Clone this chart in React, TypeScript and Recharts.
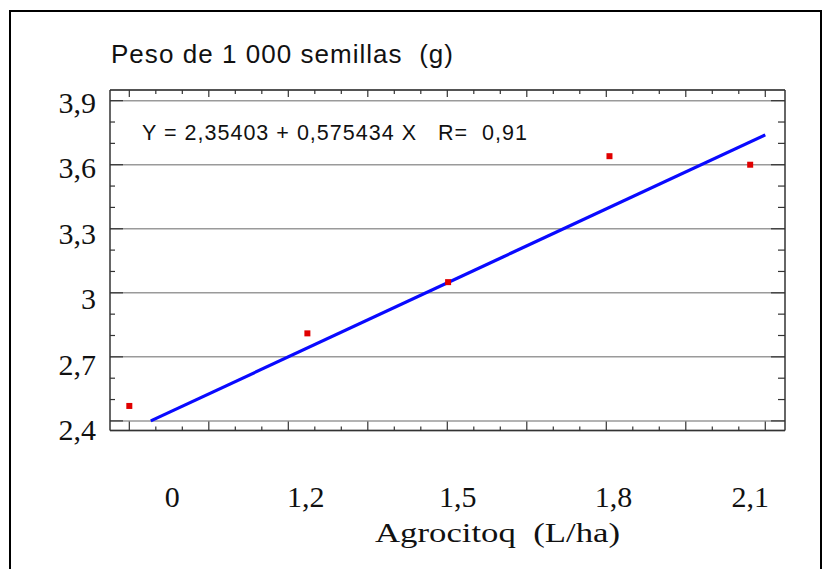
import React from "react"
import { CartesianGrid, ComposedChart, Line, Scatter, XAxis, YAxis } from "recharts"

// dose labels under the axis and where they sit on the (major tick) scale
const doseLabels = ["0", "1,2", "1,5", "1,8", "2,1"]
const doseLabelPos = [0.54, 2.22, 4.13, 6.09, 7.81]

// measured points
const pointPos = [0, 2.24, 4.01, 6.04, 7.81]
const seedWeight = [2.47, 2.81, 3.05, 3.64, 3.6]

// fitted line end points
const fitPos = [0.27, 8.0]
const fitWeight = [2.4, 3.74]

const yMajorTicks = [2.4, 2.7, 3, 3.3, 3.6, 3.9]
const yMajorLabels = ["2,4", "2,7", "3", "3,3", "3,6", "3,9"]
const yLabelShift = [9.5, 8, 6.5, 5, 3.5, 2]
const yAllTicks = [2.4, 2.5, 2.6, 2.7, 2.8, 2.9, 3, 3.1, 3.2, 3.3, 3.4, 3.5, 3.6, 3.7, 3.8, 3.9]
const xAllTicks = [
  0, 1 / 3, 2 / 3, 1, 4 / 3, 5 / 3, 2, 7 / 3, 8 / 3, 3, 10 / 3, 11 / 3, 4, 13 / 3, 14 / 3, 5, 16 / 3, 17 / 3, 6,
  19 / 3, 20 / 3, 7, 22 / 3, 23 / 3, 8,
]

const points = pointPos.map((x, i) => ({ x, y: seedWeight[i] }))
const fitLine = fitPos.map((x, i) => ({ x, y: fitWeight[i] }))

const X_DOMAIN: [number, number] = [-0.243, 8.248]
const Y_DOMAIN: [number, number] = [2.355, 3.95]
const INK = "#333"
const SERIF = "'Liberation Serif', 'Times New Roman', serif"
const NARROW = "'Liberation Sans Narrow', 'Arial Narrow', 'Liberation Sans', Arial, sans-serif"

function LeftTick(props: any) {
  const { x, y, index } = props
  const major = index % 3 === 0
  const li = index / 3
  return (
    <g>
      <line x1={x} x2={x + (major ? 13 : 5)} y1={y} y2={y} stroke={INK} strokeWidth={1.2} />
      {major && (
        <text x={x - 14} y={y + yLabelShift[li] + 10} textAnchor="end" fontFamily={SERIF} fontSize={30} fill="#111">
          {yMajorLabels[li]}
        </text>
      )}
    </g>
  )
}

function RightTick(props: any) {
  const { x, y, index } = props
  return <line x1={x} x2={x - (index % 3 === 0 ? 14 : 7)} y1={y} y2={y} stroke={INK} strokeWidth={1.2} />
}

function BottomTick(props: any) {
  const { x, y, index } = props
  return <line x1={x} x2={x} y1={y} y2={y - (index % 3 === 0 ? 9 : 4)} stroke={INK} strokeWidth={1.2} />
}

function TopTick(props: any) {
  const { x, y, index } = props
  return <line x1={x} x2={x} y1={y} y2={y + (index % 3 === 0 ? 7 : 4)} stroke={INK} strokeWidth={1.2} />
}

function LabelTick(props: any) {
  const { x, y, index } = props
  return (
    <text x={x} y={y + 75} textAnchor="middle" fontFamily={SERIF} fontSize={30} fill="#111">
      {doseLabels[index]}
    </text>
  )
}

function RedSquare(props: any) {
  const { cx, cy } = props
  return <rect x={cx - 3} y={cy - 3} width={6} height={6} fill="#e00000" />
}

export default function App() {
  return (
    <div style={{ position: "absolute", left: 0, top: 0, width: 824, height: 569, overflow: "hidden", background: "#fff" }}>
      <div
        style={{
          position: "absolute",
          left: 9,
          top: 10,
          width: 813,
          height: 700,
          border: "2px solid #000",
          boxSizing: "border-box",
        }}
      />
      <ComposedChart width={824} height={569} margin={{ top: 89, right: 38, bottom: 0, left: 0 }} style={{ position: "absolute", left: 0, top: 0 }}>
        <CartesianGrid vertical={false} xAxisId="b" yAxisId="g" stroke="#9a9a9a" strokeWidth={1.5} />
        <XAxis
          xAxisId="b"
          type="number"
          dataKey="x"
          domain={X_DOMAIN}
          allowDataOverflow
          ticks={xAllTicks}
          interval={0}
          height={1}
          tickSize={0}
          tickMargin={0}
          tickLine={false}
          tick={<BottomTick />}
          axisLine={{ stroke: INK, strokeWidth: 1.5 }}
        />
        <XAxis
          xAxisId="lab"
          type="number"
          dataKey="x"
          domain={X_DOMAIN}
          allowDataOverflow
          ticks={doseLabelPos}
          interval={0}
          height={137.5}
          tickSize={0}
          tickMargin={0}
          tickLine={false}
          axisLine={false}
          tick={<LabelTick />}
        />
        <XAxis
          xAxisId="t"
          orientation="top"
          type="number"
          dataKey="x"
          domain={X_DOMAIN}
          allowDataOverflow
          ticks={xAllTicks}
          interval={0}
          height={1}
          tickSize={0}
          tickMargin={0}
          tickLine={false}
          tick={<TopTick />}
          axisLine={{ stroke: INK, strokeWidth: 1.5 }}
        />
        <YAxis
          yAxisId="l"
          type="number"
          domain={Y_DOMAIN}
          allowDataOverflow
          ticks={yAllTicks}
          interval={0}
          width={110}
          tickSize={0}
          tickMargin={0}
          tickLine={false}
          tick={<LeftTick />}
          axisLine={{ stroke: INK, strokeWidth: 1.5 }}
        />
        <YAxis
          yAxisId="r"
          orientation="right"
          type="number"
          domain={Y_DOMAIN}
          allowDataOverflow
          ticks={yAllTicks}
          interval={0}
          width={1}
          tickSize={0}
          tickMargin={0}
          tickLine={false}
          tick={<RightTick />}
          axisLine={{ stroke: INK, strokeWidth: 1.5 }}
        />
        <YAxis
          yAxisId="g"
          orientation="right"
          type="number"
          domain={Y_DOMAIN}
          allowDataOverflow
          ticks={yMajorTicks}
          interval={0}
          width={0}
          hide
        />
        <Line
          xAxisId="b"
          yAxisId="l"
          data={fitLine}
          dataKey="y"
          type="linear"
          stroke="#0a0aff"
          strokeWidth={3.2}
          dot={false}
          isAnimationActive={false}
        />
        <Scatter xAxisId="b" yAxisId="l" data={points} dataKey="y" shape={<RedSquare />} isAnimationActive={false} />
      </ComposedChart>
      <svg width={824} height={569} style={{ position: "absolute", left: 0, top: 0, pointerEvents: "none" }}>
        <text x={111} y={63} fontFamily={NARROW} fontSize={26} fill="#111" textLength={342} lengthAdjust="spacing" style={{ whiteSpace: "pre" }}>
          Peso de 1 000 semillas  (g)
        </text>
        <text x={142} y={140} fontFamily={NARROW} fontSize={21.5} fill="#111" textLength={385} lengthAdjust="spacing" style={{ whiteSpace: "pre" }}>
          Y = 2,35403 + 0,575434 X   R=  0,91
        </text>
        <text x={375} y={542} fontFamily={SERIF} fontSize={28} fill="#111" textLength={245} lengthAdjust="spacingAndGlyphs" style={{ whiteSpace: "pre" }}>
          Agrocitoq  (L/ha)
        </text>
      </svg>
    </div>
  )
}
